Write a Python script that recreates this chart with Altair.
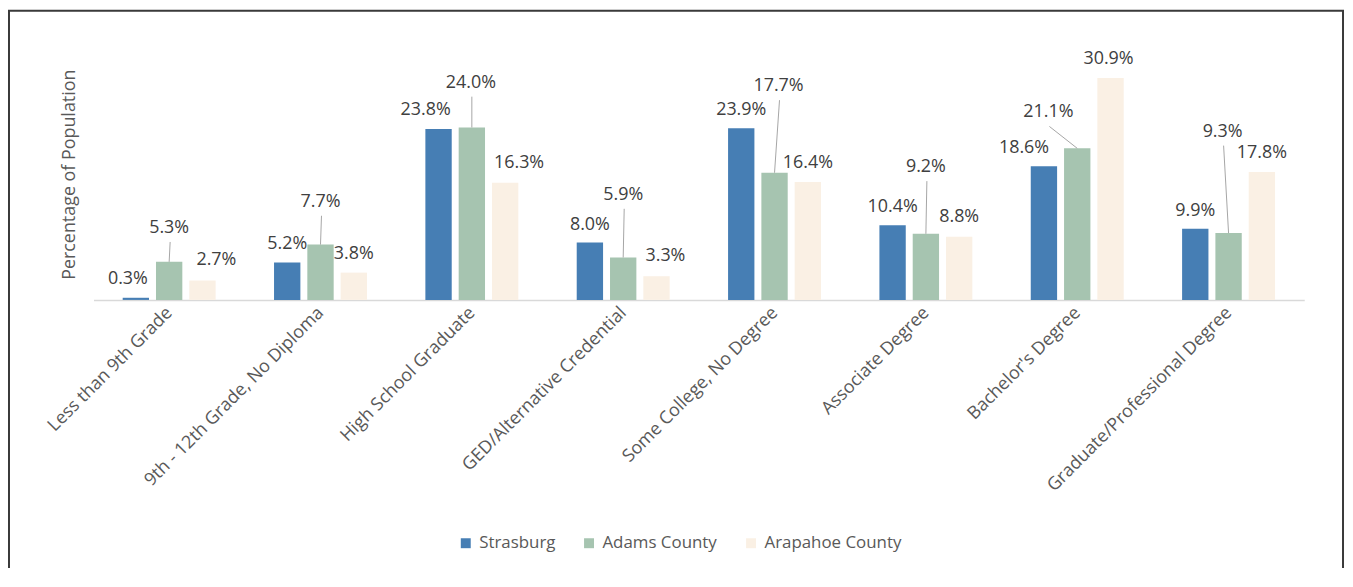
import json
import altair as alt
import pandas as pd

# ---- data ----
categories = [
    "Less than 9th Grade",
    "9th - 12th Grade, No Diploma",
    "High School Graduate",
    "GED/Alternative Credential",
    "Some College, No Degree",
    "Associate Degree",
    "Bachelor's Degree",
    "Graduate/Professional Degree",
]
series = ["Strasburg", "Adams County", "Arapahoe County"]
strasburg = [0.3, 5.2, 23.8, 8.0, 23.9, 10.4, 18.6, 9.9]
adams = [5.3, 7.7, 24.0, 5.9, 17.7, 9.2, 21.1, 9.3]
arapahoe = [2.7, 3.8, 16.3, 3.3, 16.4, 8.8, 30.9, 17.8]
values = [strasburg, adams, arapahoe]
colors = ["#467EB4", "#A6C4B0", "#FAF0E4"]

# label layout (pixel nudges relative to the top of each bar, like the Excel callouts)
label_dx = [
    [-8, 0, -13, 0, 0, 0, -20, 0],
    [0, 0, -1, 0, 4, 0, -29, -6],
    [14, 0, 14, 9, 0, 0, -2, 0],
]
label_lift = [
    [19, 19, 19, 18, 18, 18, 18, 18],
    [34, 43, 45, 63, 87, 67, 36, 102],
    [21, 19, 20, 20, 19, 20, 19, 19],
]

# ---- geometry ----
W, H = 1218, 253
YMAX = 35
STEP = W / len(categories)
UY = H / YMAX
BAR_W = 26.5
SLOT = 33.5

bars, labels, leaders = [], [], []
for j, s in enumerate(series):
    for i, c in enumerate(categories):
        v = values[j][i]
        xc = i + (j - 1) * SLOT / STEP
        bars.append({"series": s, "x0": xc - BAR_W / 2 / STEP, "x1": xc + BAR_W / 2 / STEP, "value": v})
        lx = xc + label_dx[j][i] / STEP
        ly = v + label_lift[j][i] / UY
        labels.append({"series": s, "lx": lx, "ly": ly, "text": f"{v:.1f}%"})
        if label_lift[j][i] > 28:
            leaders.append({"ax": lx + 1 / STEP, "ay": ly - 14 / UY, "bx": xc, "by": v})

bars_df = pd.DataFrame(bars)
labels_df = pd.DataFrame(labels)
leaders_df = pd.DataFrame(leaders)

FONT = "Open Sans"
label_expr = json.dumps(categories) + "[datum.value]"

xscale = alt.Scale(domain=[-0.5, len(categories) - 0.5], nice=False, zero=False)
yscale = alt.Scale(domain=[0, YMAX], nice=False)

bar_layer = alt.Chart(bars_df).mark_bar().encode(
    x=alt.X(
        "x0:Q",
        scale=xscale,
        axis=alt.Axis(
            values=list(range(len(categories))),
            labelExpr=label_expr,
            title=None,
            ticks=False,
            grid=False,
            domainColor="#D9D9D9",
            domainWidth=1.5,
            labelAngle=315,
            labelAlign="right",
            labelBaseline="middle",
            labelPadding=10,
            labelFont=FONT,
            labelFontSize=18,
            labelColor="#595959",
            labelOverlap=False,
            labelFlush=False,
            labelBound=False,
            labelLimit=0,
        ),
    ),
    x2="x1:Q",
    y=alt.Y(
        "value:Q",
        scale=yscale,
        axis=alt.Axis(
            title="Percentage of Population",
            labels=False,
            ticks=False,
            domain=False,
            grid=False,
            titleFont=FONT,
            titleFontSize=18,
            titleFontWeight="normal",
            titleColor="#595959",
            titleAngle=270,
            titleAlign="center",
            titleBaseline="middle",
            titleX=-24,
            titleY=H / 2,
        ),
    ),
    y2=alt.datum(0),
    color=alt.Color(
        "series:N",
        scale=alt.Scale(domain=series, range=colors),
        legend=alt.Legend(
            title=None,
            orient="none",
            legendX=366,
            legendY=489,
            direction="horizontal",
            symbolType="square",
            symbolSize=100,
            symbolStrokeWidth=0,
            symbolOpacity=1,
            labelFont=FONT,
            labelFontSize=17,
            labelColor="#595959",
            labelOffset=5,
            columnPadding=25,
        ),
    ),
)

leader_layer = alt.Chart(leaders_df).mark_rule(color="#A5A5A5", strokeWidth=1).encode(
    x=alt.X("ax:Q", scale=xscale),
    x2="bx:Q",
    y=alt.Y("ay:Q", scale=yscale),
    y2="by:Q",
)

text_layer = alt.Chart(labels_df).mark_text(
    font=FONT, fontSize=18, color="#404040", align="center", baseline="middle"
).encode(
    x=alt.X("lx:Q", scale=xscale),
    y=alt.Y("ly:Q", scale=yscale),
    text="text:N",
)

frame = alt.Chart(pd.DataFrame({"k": [0]})).mark_rect(
    fill="white", fillOpacity=0, stroke="#3A3A3A", strokeWidth=2
).encode(
    x=alt.value(-85), x2=alt.value(1257), y=alt.value(-38), y2=alt.value(700)
)

chart = (
    alt.layer(frame, bar_layer, leader_layer, text_layer)
    .properties(
        width=W,
        height=H,
        autosize=alt.AutoSizeParams(type="none"),
        padding={"left": 86, "top": 39, "right": 41, "bottom": 268},
        background="white",
    )
    .configure_view(strokeWidth=0)
)

chart.save("out.html", embed_options={"renderer": "svg", "actions": False})
